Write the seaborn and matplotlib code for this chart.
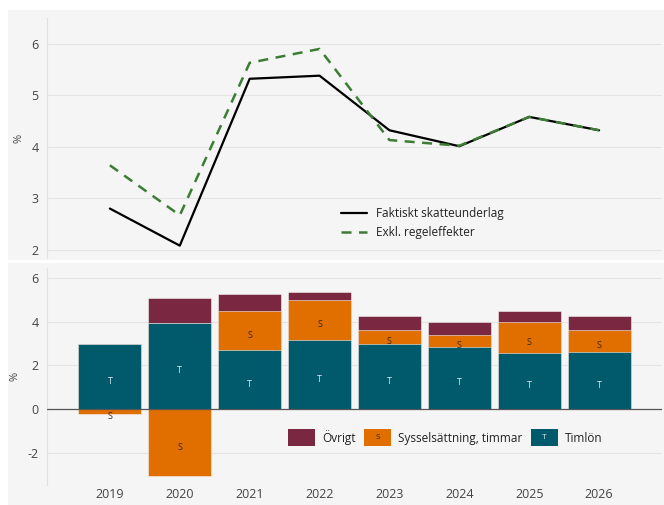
import numpy as np
import pandas as pd
import matplotlib
matplotlib.use('Agg')
import matplotlib.pyplot as plt
import seaborn as sns
from matplotlib.patches import Rectangle
from matplotlib.legend_handler import HandlerPatch
from matplotlib.lines import Line2D
from matplotlib.text import Text

# data
years = ['2019', '2020', '2021', '2022', '2023', '2024', '2025', '2026']
faktiskt = [2.80, 2.08, 5.32, 5.38, 4.32, 4.01, 4.58, 4.32]
exkl_regel = [3.64, 2.67, 5.63, 5.90, 4.13, 4.02, 4.58, 4.32]
timlon = [2.97, 3.93, 2.69, 3.15, 2.97, 2.83, 2.56, 2.60]
syssels = [-0.23, -3.06, 1.78, 1.83, 0.64, 0.55, 1.41, 1.01]
ovrigt = [0.0, 1.18, 0.78, 0.36, 0.64, 0.59, 0.51, 0.64]

c_t = '#005a6b'
c_s = '#e06f00'
c_o = '#7a2841'
c_green = '#3b7d33'
bg = '#f5f5f5'

sns.set_style('white')
plt.rcParams['font.family'] = ['Open Sans', 'DejaVu Sans']
plt.rcParams['axes.unicode_minus'] = False

fig = plt.figure(figsize=(6.64, 5.05), dpi=100)
fig.patch.set_facecolor('white')
# bakgrund för de två panelerna
fig.patches.append(Rectangle((8/664, 1-260/505), 1, 250/505, transform=fig.transFigure,
                             facecolor=bg, edgecolor='none', zorder=-10))
fig.patches.append(Rectangle((8/664, 0), 1, 1-263/505, transform=fig.transFigure,
                             facecolor=bg, edgecolor='none', zorder=-10))

ax1 = fig.add_axes([47/664, 1-258/505, 615/664, 240/505])
ax2 = fig.add_axes([47/664, 20/505, 615/664, 217/505])

pos = np.arange(len(years))
df = pd.DataFrame({'pos': pos, 'faktiskt': faktiskt, 'exkl': exkl_regel})

# --- övre: linjer
sns.lineplot(data=df, x='pos', y='faktiskt', ax=ax1, color='black', lw=1.6)
sns.lineplot(data=df, x='pos', y='exkl', ax=ax1, color=c_green, lw=1.8)
ax1.get_lines()[1].set_dashes((4, 3))

# --- nedre: staplade staplar
t = np.array(timlon)
s = np.array(syssels)
o = np.array(ovrigt)
s_pos = np.clip(s, 0, None)
s_neg = np.clip(s, None, 0)
layers = [(t + s_pos + o, c_o), (t + s_pos, c_s), (t, c_t), (s_neg, c_s)]
for vals, col in layers:
    sns.barplot(x=years, y=vals, color=col, saturation=1, width=0.9, ax=ax2,
                edgecolor='#f0f0f0', linewidth=0.4, zorder=2)

# bokstäver i segmenten
for i in range(len(years)):
    ax2.text(i, t[i] / 2, 'T', ha='center', va='top', fontsize=6.5, color='#dde8ea', zorder=5)
    sc = t[i] + s[i] / 2 if s[i] >= 0 else s[i] / 2
    ax2.text(i, sc, 'S', ha='center', va='top', fontsize=6.5, color='#3a2410', zorder=5)

ax2.axhline(0, color='#555555', lw=0.9, zorder=3)

for ax in (ax1, ax2):
    ax.set_facecolor(bg)
    for sp in ['top', 'right', 'bottom']:
        ax.spines[sp].set_visible(False)
    ax.spines['left'].set_color('#e2e2e2')
    ax.spines['left'].set_linewidth(0.8)
    ax.set_xlim(-0.9, 7.9)
    ax.grid(axis='y', color='#e4e4e4', lw=0.8, zorder=0)
    ax.set_axisbelow(True)
    ax.tick_params(axis='both', length=0, labelsize=9, colors='#444444', pad=6)
    ax.set_ylabel('%', fontsize=8, color='#444444', labelpad=5)

ax1.set_ylim(1.84, 6.5)
ax1.set_yticks([2, 3, 4, 5, 6])
ax1.set_xticks([])
ax1.set_xlabel('')

ax2.set_ylim(-3.47, 6.46)
ax2.set_yticks([-2, 0, 2, 4, 6])
ax2.set_xticks(pos)
ax2.set_xticklabels(years)
ax2.set_xlabel('')
ax2.tick_params(axis='x', pad=2)

# legender
leg1 = ax1.legend(handles=[Line2D([], [], color='black', lw=1.6),
                           Line2D([], [], color=c_green, lw=1.8, dashes=(4, 3))],
                  labels=['Faktiskt skatteunderlag', 'Exkl. regeleffekter'],
                  loc='center', bbox_to_anchor=(0.61, 0.145), frameon=False,
                  fontsize=8.5, handlelength=2.2, labelspacing=0.5)
for txt in leg1.get_texts():
    txt.set_color('#222222')


class LetterHandler(HandlerPatch):
    def __init__(self, letter, tcolor):
        super().__init__()
        self.letter = letter
        self.tcolor = tcolor

    def create_artists(self, legend, orig_handle, xdescent, ydescent, width, height,
                       fontsize, trans):
        p = Rectangle((-xdescent, -ydescent - 3), width, height + 6,
                      facecolor=orig_handle.get_facecolor(), edgecolor='none', transform=trans)
        artists = [p]
        if self.letter:
            artists.append(Text(-xdescent + width / 2, -ydescent + height / 2, self.letter,
                                ha='center', va='center', fontsize=6, color=self.tcolor,
                                transform=trans))
        return artists


h_o = Rectangle((0, 0), 1, 1, facecolor=c_o)
h_s = Rectangle((0, 0), 1, 1, facecolor=c_s)
h_t = Rectangle((0, 0), 1, 1, facecolor=c_t)
leg2 = ax2.legend(handles=[h_o, h_s, h_t],
                  labels=['Övrigt', 'Sysselsättning, timmar', 'Timlön'],
                  handler_map={h_o: LetterHandler('', 'white'),
                               h_s: LetterHandler('S', '#3a2410'),
                               h_t: LetterHandler('T', '#dde8ea')},
                  loc='center', bbox_to_anchor=(0.648, 0.22), ncol=3, frameon=False,
                  fontsize=8.5, handlelength=2.3, columnspacing=0.7, handletextpad=0.6)
for txt in leg2.get_texts():
    txt.set_color('#222222')

plt.savefig('out.png', dpi=100, facecolor=fig.get_facecolor())
